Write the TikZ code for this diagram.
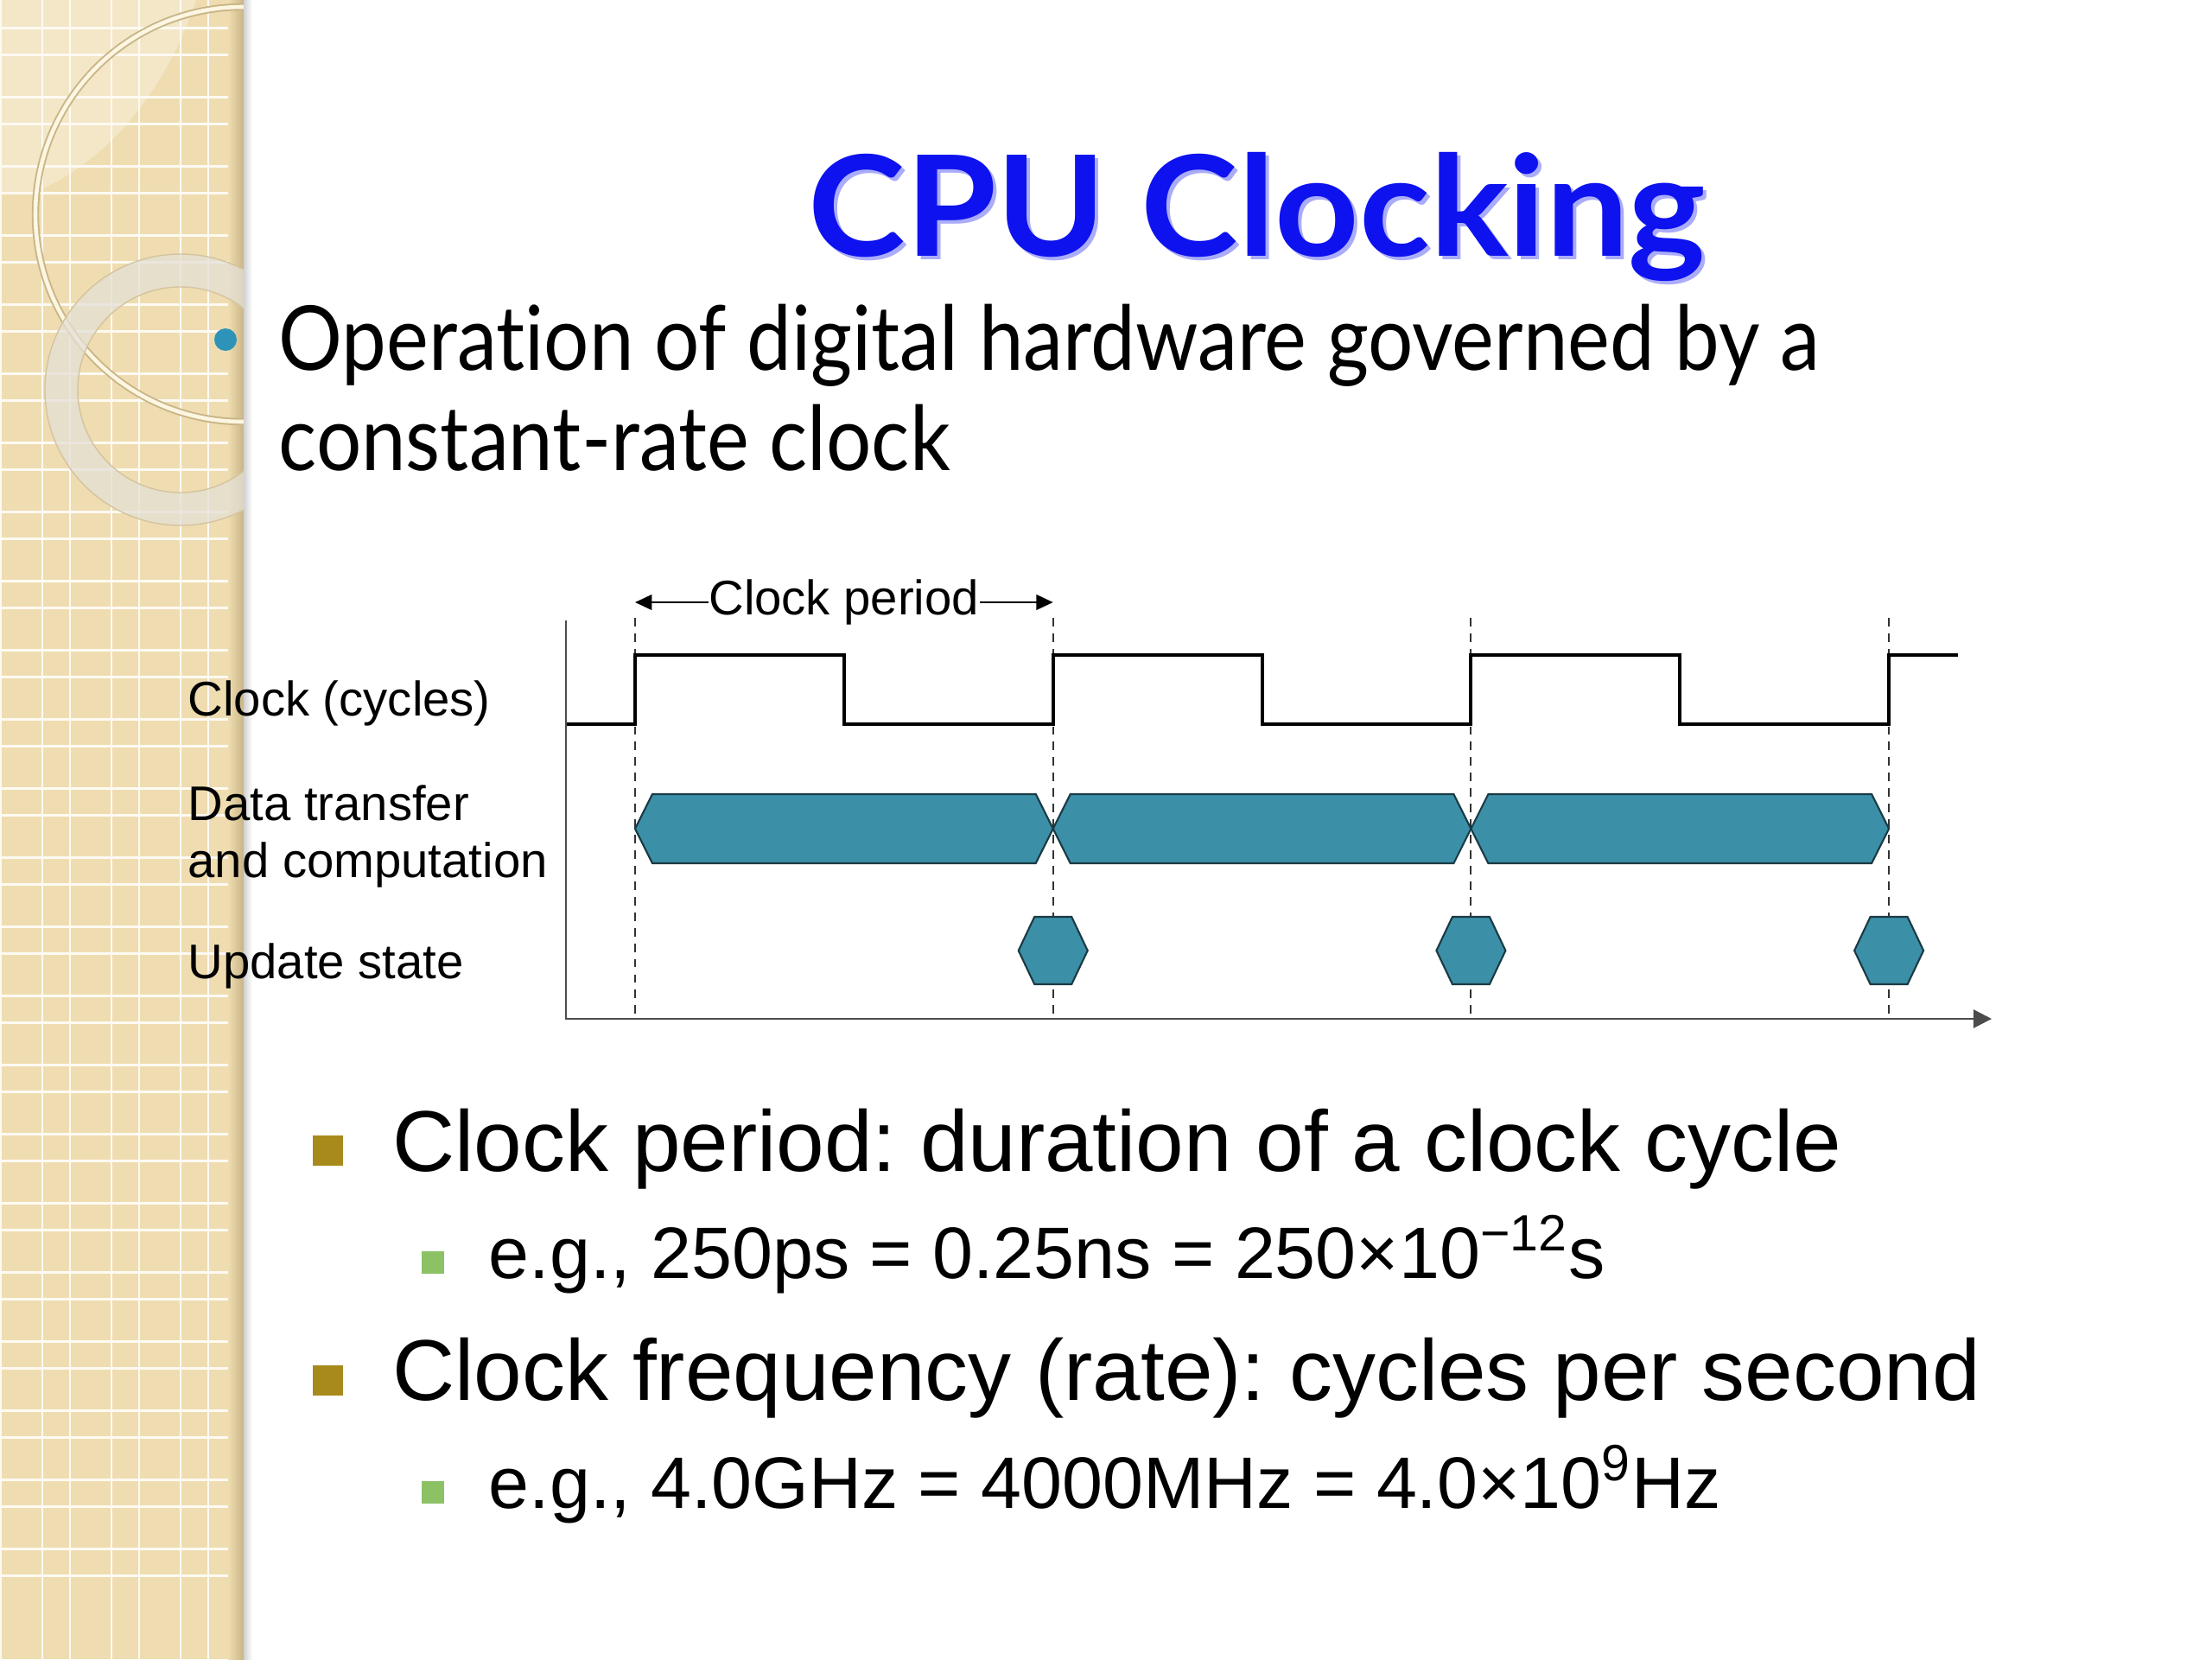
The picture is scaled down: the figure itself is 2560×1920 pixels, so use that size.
\documentclass[tikz,border=0pt]{standalone}
\usepackage{fontspec}
\setmainfont{Liberation Sans}
\newfontfamily\fuenteGill[FakeStretch=0.89, Ligatures=NoCommon]{Lato}
\newfontfamily\fuenteTitulo[FakeStretch=1.05]{Lato}
\usetikzlibrary{arrows.meta, positioning, calc}
\definecolor{azultitulo}{HTML}{0D12EE}
\definecolor{tostado}{HTML}{EFDDB1}
\definecolor{tostadooscuro}{HTML}{C9B586}
\definecolor{crema}{HTML}{FCF6E2}
\definecolor{grisanillo}{HTML}{E4E0D6}
\definecolor{azulpunto}{HTML}{2E93B8}
\definecolor{tealhex}{HTML}{3B90A8}
\definecolor{bordehex}{HTML}{1B3A44}
\definecolor{dorado}{HTML}{A88A1C}
\definecolor{verdeclaro}{HTML}{8CC264}
\colorlet{colTitulo}{azultitulo}
\colorlet{colBarra}{tostado}
\colorlet{colHex}{tealhex}
\colorlet{colEje}{black!70}
\tikzset{
  lineaRejilla/.style={draw=white!85!tostado, line width=0.85pt},
  lineaReloj/.style={draw=black, line width=1.15pt, line join=miter},
  lineaGuia/.style={draw=black!80, line width=0.55pt, dash pattern=on 2.8pt off 2.3pt},
  ejeTiempo/.style={draw=colEje, line width=0.75pt, -{Triangle[length=6pt, width=6pt]}},
  flechaPeriodo/.style={-{Triangle[length=5.5pt, width=5pt]}, line width=0.6pt},
  hexDato/.style={fill=colHex, draw=bordehex, line width=0.6pt},
  etiquetaSenal/.style={font=\fontsize{16}{19}\selectfont, inner sep=0pt, align=left},
  textoPunto/.style={anchor=base west, inner sep=0pt, font=\fontsize{28.4}{34}\selectfont},
  textoSubpunto/.style={anchor=base west, inner sep=0pt, font=\fontsize{24}{29}\selectfont},
  vinetaOro/.style={rectangle, fill=dorado, minimum size=0.35cm, inner sep=0pt},
  vinetaVerde/.style={rectangle, fill=verdeclaro, minimum size=0.26cm, inner sep=0pt},
}
\begin{document}
\frenchspacing
\begin{tikzpicture}[x=0.01cm, y=-0.01cm]
  \useasboundingbox (0,0) rectangle (2560,1920);
  \fill[white] (0,0) rectangle (2560,1920);

  % barra lateral
  \begin{scope}
    \clip (0,0) rectangle (282,1920);
    \fill[colBarra] (0,0) rectangle (282,1920);
    \fill[white, opacity=.3] (0,0) -- (227,0) .. controls (190,110) and (120,190) .. (40,222) -- (0,222) -- cycle;
    \foreach \k in {0,...,3} {
      \draw[lineaRejilla] (1+80*\k,0) -- (1+80*\k,1920);
      \draw[lineaRejilla] (49+80*\k,0) -- (49+80*\k,1920);
    }
    \foreach \k in {0,...,23} {
      \draw[lineaRejilla] (0,-48+80*\k) -- (282,-48+80*\k);
      \draw[lineaRejilla] (0,-17+80*\k) -- (282,-17+80*\k);
    }
    \shade[left color=colBarra, right color=tostadooscuro] (264,0) rectangle (282,1920);
    \draw[tostadooscuro, line width=2.4pt] (281,248) circle[radius=240];
    \draw[crema, line width=1.3pt] (281,248) circle[radius=240];
    \fill[grisanillo, opacity=.75, even odd rule] (209,451) circle[radius=157] (209,451) circle[radius=119];
    \draw[tostadooscuro!80, line width=0.4pt] (209,451) circle[radius=157] (209,451) circle[radius=119];
  \end{scope}
  \shade[left color=black!18, right color=white] (282,0) rectangle (292,1920);
  \fill[azulpunto] (261,393) circle[radius=13];

  % titulo y texto
  \node[font=\fuenteTitulo\bfseries\fontsize{46}{50}\selectfont, text=colTitulo!35, anchor=base] at (1459,300) {CPU Clocking};
  \node[font=\fuenteTitulo\bfseries\fontsize{46}{50}\selectfont, text=colTitulo, anchor=base] (titulo) at (1455,296) {CPU Clocking};
  \node[font=\fuenteGill\fontsize{29.5}{36}\selectfont, anchor=base west, inner sep=0pt] (linea1) at (322,428) {Operation of digital hardware governed by a};
  \node[font=\fuenteGill\fontsize{29.5}{36}\selectfont, anchor=base west, inner sep=0pt] (linea2) at (322,544) {constant-rate clock};

  % diagrama de tiempos
  \coordinate (tope) at (655,718);
  \coordinate (finEje) at (2305,1179);
  \foreach \i in {0,...,3}
    \coordinate (guia\i) at (735+483.7*\i,715);
  \foreach \i in {0,...,3}
    \draw[lineaGuia] (guia\i) -- (guia\i |- finEje);

  \draw[lineaReloj] (655,838) -- (735,838)
    \foreach \i in {0,1,2} { -- ++(0,-80) -- ++(241.85,0) -- ++(0,80) -- ++(241.85,0) }
    -- ++(0,-80) -- ++(80,0);

  \foreach \i in {0,1,2} {
    \pgfmathsetmacro\xa{735+483.7*\i}
    \pgfmathsetmacro\xb{\xa+483.7}
    \draw[hexDato] (\xa,959) -- (\xa+20,919) -- (\xb-20,919) -- (\xb,959) -- (\xb-20,999) -- (\xa+20,999) -- cycle;
  }
  \foreach \i in {1,2,3} {
    \pgfmathsetmacro\xc{735+483.7*\i}
    \draw[hexDato] (\xc-40,1100) -- (\xc-21.5,1061) -- (\xc+21.5,1061) -- (\xc+40,1100) -- (\xc+21.5,1139) -- (\xc-21.5,1139) -- cycle;
  }
  \draw[ejeTiempo] (tope) |- (finEje);

  \node[etiquetaSenal] (periodo) at (976.8,697) {Clock period};
  \draw[flechaPeriodo] (periodo.west) -- (periodo.west -| guia0);
  \draw[flechaPeriodo] (periodo.east) -- (periodo.east -| guia1);

  \node[etiquetaSenal, anchor=base west] (lblReloj) at (217,828) {Clock (cycles)};
  \node[etiquetaSenal, anchor=west] (lblDatos) at (217,968) {Data transfer\\and computation};
  \node[etiquetaSenal, anchor=base west] (lblEstado) at (217,1132) {Update state};

  % puntos
  \node[vinetaOro] (v1) at (379.5,1331.5) {};
  \node[textoPunto] (p1) at (454,1355) {Clock period: duration of a clock cycle};
  \node[vinetaVerde] (v2) at (501,1461) {};
  \node[textoSubpunto] (p2) at (565,1479) {e.g., 250ps = 0.25ns = 250×10\textsuperscript{−12}s};
  \node[vinetaOro] (v3) at (379.5,1597.5) {};
  \node[textoPunto] (p3) at (454,1620) {Clock frequency (rate): cycles per second};
  \node[vinetaVerde] (v4) at (501,1726.5) {};
  \node[textoSubpunto] (p4) at (565,1745) {e.g., 4.0GHz = 4000MHz = 4.0×10\textsuperscript{9}Hz};
\end{tikzpicture}
\end{document}
